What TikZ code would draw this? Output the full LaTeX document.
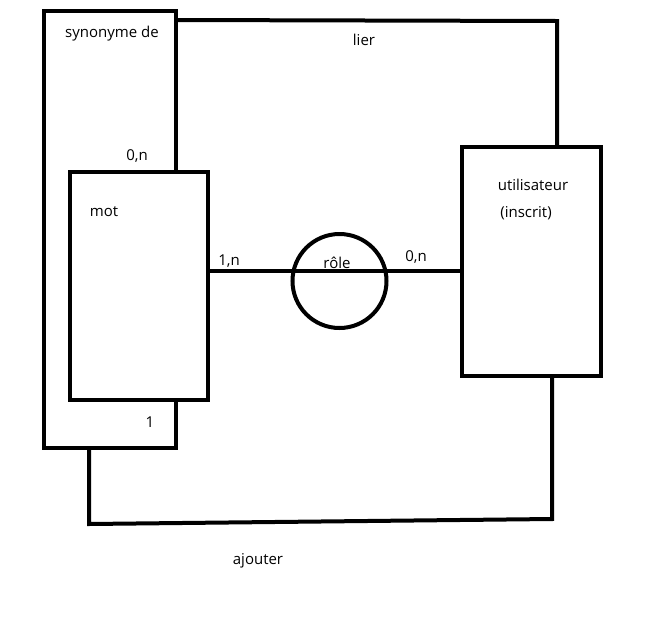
\documentclass[tikz,border=0pt]{standalone}
\usepackage{fontspec}
\setmainfont{Open Sans}
\begin{document}
\begin{tikzpicture}[x=1pt,y=-1pt,
  ent/.style={draw,line width=4pt,rectangle,inner sep=0pt},
  link/.style={line width=4pt,line join=miter},
  lbl/.style={font=\fontsize{15}{18}\selectfont,inner sep=0pt}]
\useasboundingbox (0,0) rectangle (646,638);
% entities
\node[ent,minimum width=138pt,minimum height=228pt] (mot) at (139,286) {};
\node[ent,minimum width=139pt,minimum height=229pt] (user) at (531.5,261.5) {};
\node[draw,circle,line width=4pt,minimum size=94pt,inner sep=0pt] (role) at (339.5,281) {};
% coordinates
\coordinate (s1) at (176,11);
\coordinate (s2) at (44,11);
\coordinate (s3) at (44,448);
\coordinate (s4) at (176,448);
\coordinate (l1) at (176,20);
\coordinate (l2) at (557,21);
\coordinate (a1) at (89,448);
\coordinate (a2) at (89,524);
\coordinate (a3) at (552,519);
% connectors
\draw[link] (mot.north -| s1) -- (s1) -- (s2) -- (s3) -- (s4) -- (mot.south -| s4);
\draw[link] (l1) -- (l2) -- (user.north -| l2);
\draw[link] (a1) -- (a2) -- (a3) -- (user.south -| a3);
\draw[link] (mot.east |- 0,271) -- (user.west |- 0,271);
% labels
\node[lbl] (tsyn) at (112,34) {synonyme de};
\node[lbl] (tlier) at (364,40) {lier};
\node[lbl] (tc1) at (137,156) {0,n};
\node[lbl] (tmot) at (104,212) {mot};
\node[lbl] (tc2) at (229,261) {1,n};
\node[lbl] (trole) at (337,263) {rôle};
\node[lbl] (tc3) at (416,257) {0,n};
\node[lbl] (tuser) at (533,185) {utilisateur};
\node[lbl] (tins) at (526,213) {(inscrit)};
\node[lbl] (tc4) at (150,422) {1};
\node[lbl] (tajout) at (258,561) {ajouter};
\end{tikzpicture}
\end{document}
